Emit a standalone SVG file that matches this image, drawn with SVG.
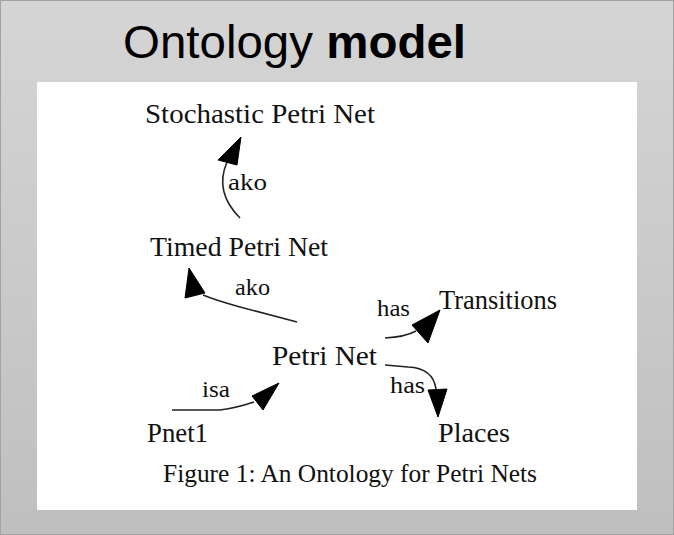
<svg xmlns="http://www.w3.org/2000/svg" width="674" height="535" viewBox="0 0 674 535">
<defs>
<linearGradient id="bg" x1="0" y1="0" x2="0" y2="1">
<stop offset="0" stop-color="#d5d5d5"/>
<stop offset="1" stop-color="#bfbfbf"/>
</linearGradient>
</defs>
<style>
.node{font-family:"Liberation Serif","Times New Roman",serif;font-size:28px;fill:#111}
.lbl{font-family:"Liberation Serif","Times New Roman",serif;font-size:24px;fill:#111}
.edge{fill:none;stroke:#222;stroke-width:1.6}
.head{fill:#000;stroke:#000;stroke-width:1;stroke-linejoin:round}
</style>
<rect x="0.5" y="0.5" width="673" height="534" fill="url(#bg)" stroke="#a3a3a3" stroke-width="1"/>
<text x="123" y="58" font-family="Liberation Sans,Arial,sans-serif" font-size="47" fill="#000" textLength="343" lengthAdjust="spacingAndGlyphs">Ontology <tspan font-weight="bold">model</tspan></text>
<rect x="37" y="82" width="600" height="428" fill="#fff"/>
<g id="connectors">
<path class="edge" d="M240,218 Q214,192 227,162"/>
<polygon class="head" points="241,137 218,160 237,165"/>
<path class="edge" d="M297,322 L240,307 Q215,300 203,295"/>
<polygon class="head" points="189,268 185,298 205,293"/>
<path class="edge" d="M385,338 Q405,337 416,331"/>
<polygon class="head" points="440,310 412,325 428,343"/>
<path class="edge" d="M385,365 L408,367 Q433,368 436,389"/>
<polygon class="head" points="428,390 447,389 438,417"/>
<path class="edge" d="M172,410 L220,410 Q236,408 254,402"/>
<polygon class="head" points="279,383 252,396 263,410"/>
<text class="lbl" x="228" y="190" textLength="39" lengthAdjust="spacingAndGlyphs">ako</text>
<text class="lbl" x="235" y="295" textLength="35" lengthAdjust="spacingAndGlyphs">ako</text>
<text class="lbl" x="377" y="316" textLength="33" lengthAdjust="spacingAndGlyphs">has</text>
<text class="lbl" x="390" y="393" textLength="35" lengthAdjust="spacingAndGlyphs">has</text>
<text class="lbl" x="202" y="397" textLength="28" lengthAdjust="spacingAndGlyphs">isa</text>
</g>
<g id="n-stochastic"><text class="node" x="145" y="123" textLength="230" lengthAdjust="spacingAndGlyphs">Stochastic Petri Net</text></g>
<g id="n-timed"><text class="node" x="150" y="256" textLength="178" lengthAdjust="spacingAndGlyphs">Timed Petri Net</text></g>
<g id="n-transitions"><text class="node" x="439" y="309" textLength="118" lengthAdjust="spacingAndGlyphs">Transitions</text></g>
<g id="n-petrinet"><text class="node" x="272" y="365" textLength="105" lengthAdjust="spacingAndGlyphs">Petri Net</text></g>
<g id="n-pnet1"><text class="node" x="147" y="442" textLength="61" lengthAdjust="spacingAndGlyphs">Pnet1</text></g>
<g id="n-places"><text class="node" x="438" y="442" textLength="72" lengthAdjust="spacingAndGlyphs">Places</text></g>
<text x="163" y="482" font-family="Liberation Serif,Times New Roman,serif" font-size="25" fill="#111" textLength="374" lengthAdjust="spacingAndGlyphs">Figure 1: An Ontology for Petri Nets</text>
</svg>
